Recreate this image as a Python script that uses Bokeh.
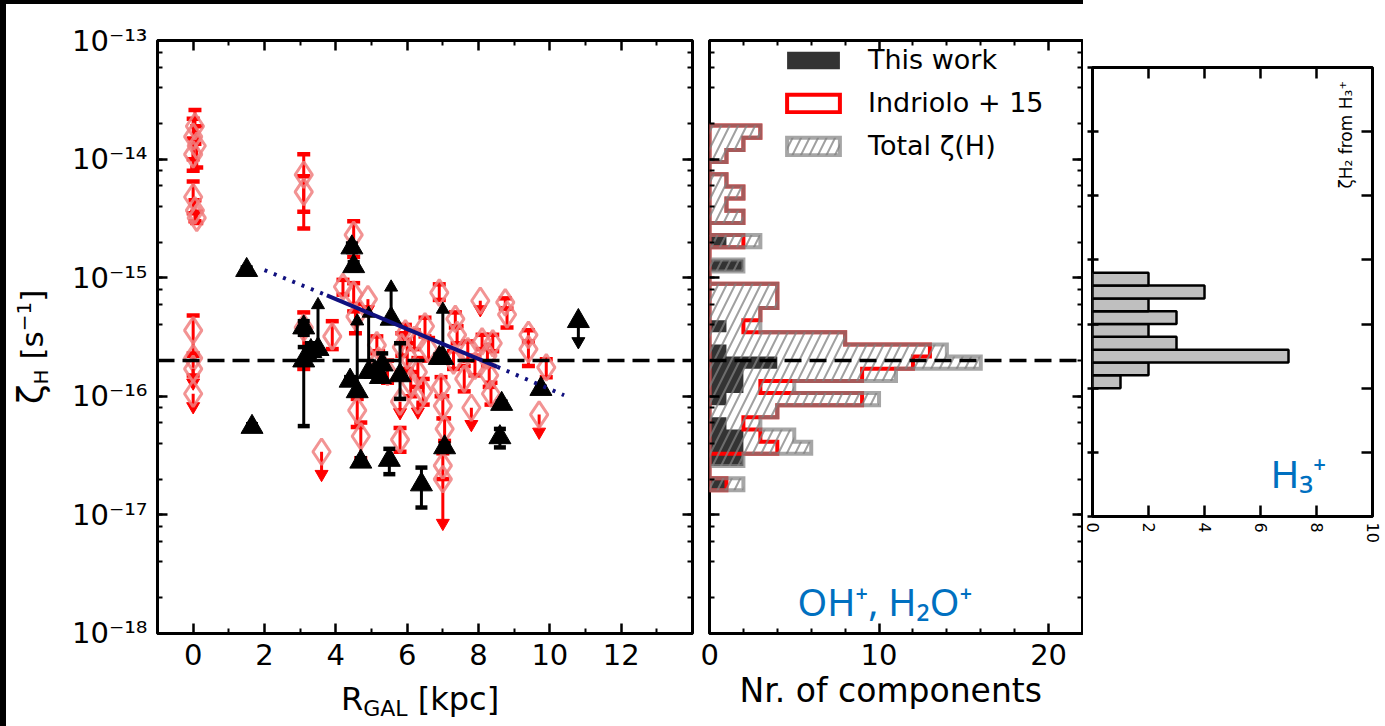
import math
from bokeh.plotting import figure
from bokeh.models import (Span, Label, LogAxis, LinearAxis, FixedTicker, LogTicker,
                          CustomJSTickFormatter, Legend, LegendItem, Div, Range1d)
from bokeh.layouts import row, column
from bokeh.embed import file_html
from bokeh.resources import INLINE

FONT = "DejaVu Sans"

# ---------------- data ----------------
# Indriolo+15 detections: R_GAL [kpc], zeta_H, lower / upper error ends
ind_r = [0.05, 0.0, 0.1, 0.0, 0.0, 0.05, 0.1, 0.0, 0.0,
         3.1, 3.1, 3.1, 3.9, 4.5, 4.2, 4.5, 4.55, 4.6, 4.7,
         5.15, 5.2, 5.45, 5.8, 5.85, 6.0, 6.2, 6.3, 6.45, 6.5, 6.6,
         6.9, 6.95, 7.0, 7.05, 7.0, 7.35, 7.4, 7.3, 7.6, 7.7, 7.9,
         8.1, 8.25, 8.3, 8.35, 8.4, 8.75, 8.8, 9.4, 9.4, 9.9, 6.1, 5.95]
ind_z = [1.9e-14, 1.55e-14, 1.3e-14, 1.1e-14, 4.8e-15, 3.7e-15, 3.2e-15, 3.6e-16, 2.1e-16,
         7.4e-15, 5.3e-15, 3.8e-16, 3.2e-16, 2.3e-15, 8.4e-16, 7.2e-16, 4.7e-16, 7.6e-17, 4.6e-17,
         2.7e-16, 2.0e-16, 1.6e-16, 4.3e-17, 2.6e-16, 2.2e-16, 3.0e-16, 1.6e-16, 1.1e-16, 3.9e-16, 2.5e-16,
         7.5e-16, 1.2e-16, 8.3e-17, 5.3e-17, 2.6e-17, 4.5e-16, 3.3e-16, 2.0e-16, 1.4e-16, 2.4e-16, 1.8e-16,
         2.9e-16, 2.2e-16, 1.5e-16, 1.05e-16, 2.8e-16, 6.2e-16, 4.9e-16, 3.3e-16, 2.5e-16, 1.75e-16, 1.3e-16, 3.4e-16]
ind_lo = [1.35e-14, 1.0e-14, 8.5e-15, 8.0e-15, 3.5e-15, 3.0e-15, 2.9e-15, 2.2e-16, 1.5e-16,
          3.6e-15, 2.6e-15, 1.7e-16, 2.5e-16, 1.5e-15, 7.2e-16, 5.2e-16, 3.4e-16, 5.5e-17, 3.0e-17,
          2.3e-16, 1.65e-16, 1.3e-16, 3.4e-17, 2.2e-16, 1.7e-16, 2.5e-16, 1.2e-16, 8.5e-17, 3.2e-16, 2.0e-16,
          6.5e-16, 1.0e-16, 6.5e-17, 4.2e-17, 2.0e-17, 3.8e-16, 2.8e-16, 1.7e-16, 1.1e-16, 2.0e-16, 1.5e-16,
          2.5e-16, 1.8e-16, 1.2e-16, 8.5e-17, 2.4e-16, 5.5e-16, 3.8e-16, 2.9e-16, 1.8e-16, 1.45e-16, 1.0e-16, 3.0e-16]
ind_hi = [2.6e-14, 2.2e-14, 1.9e-14, 1.5e-14, 6.5e-15, 4.5e-15, 3.6e-15, 4.8e-16, 2.3e-16,
          1.1e-14, 7.2e-15, 5.1e-16, 4.3e-16, 3.0e-15, 9.6e-16, 9.0e-16, 6.0e-16, 9.5e-17, 6.0e-17,
          3.2e-16, 2.4e-16, 2.0e-16, 5.4e-17, 3.4e-16, 2.8e-16, 3.6e-16, 2.1e-16, 1.4e-16, 4.6e-16, 3.1e-16,
          8.8e-16, 1.45e-16, 1.0e-16, 6.5e-17, 3.3e-17, 5.1e-16, 3.9e-16, 2.4e-16, 1.8e-16, 2.9e-16, 2.2e-16,
          3.3e-16, 2.7e-16, 1.8e-16, 1.3e-16, 3.3e-16, 6.7e-16, 5.5e-16, 3.6e-16, 2.9e-16, 2.05e-16, 1.6e-16, 4.0e-16]
# Indriolo+15 upper limits
ind_ul_r = [0.0, 0.0, 3.6, 4.9, 5.8, 6.3, 7.0, 7.8, 8.05, 9.7]
ind_ul_z = [1.7e-16, 1.05e-16, 3.4e-17, 6.6e-16, 9.0e-17, 9.2e-17, 2.0e-17, 8.0e-17, 6.4e-16, 7.0e-17]
ind_ul_tip = [1.3e-16, 8.2e-17, 2.2e-17, 5.4e-16, 7.3e-17, 7.4e-17, 8.5e-18, 5.8e-17, 5.4e-16, 5.0e-17]

# This work: detections
tw_r = [1.5, 1.65, 3.1, 3.1, 3.3, 4.45, 4.5, 4.4, 4.7, 5.1,
        5.25, 5.3, 5.5, 5.8, 6.4, 6.9, 7.05, 8.65, 8.6, 9.75]
tw_z = [1.16e-15, 5.5e-17, 3.8e-16, 2.0e-16, 2.4e-16, 1.8e-15, 1.25e-15, 1.35e-16, 2.8e-17, 1.6e-16,
        1.45e-16, 1.85e-16, 2.9e-17, 1.5e-16, 1.8e-17, 2.1e-16, 3.7e-17, 8.6e-17, 4.5e-17, 1.15e-16]
tw_lo = [1.1e-15, 5.2e-17, 3.3e-16, 5.6e-17, 2.1e-16, 1.65e-15, 1.15e-15, 1.25e-16, 2.6e-17, 1.5e-16,
         1.35e-16, 1.7e-16, 2.2e-17, 9.5e-17, 1.15e-17, 1.95e-16, 3.4e-17, 8.2e-17, 3.7e-17, 1.1e-16]
tw_hi = [1.22e-15, 5.8e-17, 4.3e-16, 2.6e-16, 2.8e-16, 1.95e-15, 1.35e-15, 1.45e-16, 3.0e-17, 1.7e-16,
         1.55e-16, 2.3e-16, 3.6e-17, 2.8e-16, 2.5e-17, 2.25e-16, 4.0e-17, 9.0e-17, 5.3e-17, 1.2e-16]
# This work: lower limits (arrows up) and upper limit (arrow down)
tw_ll_r = [3.5, 4.6, 4.92, 5.55, 7.0]
tw_ll_z = [2.5e-16, 1.1e-16, 1.6e-16, 4.5e-16, 2.1e-16]
tw_ll_tip = [5.9e-16, 4.3e-16, 5.0e-16, 8.3e-16, 5.4e-16]
tw_ul_r = [10.8]
tw_ul_z = [4.3e-16]
tw_ul_tip = [2.9e-16]

# Gradient fit (solid inside 3.75-8.53 kpc, dotted extrapolation)
fit_r = [2.0, 3.75, 8.53, 10.4]
fit_z = [1.16e-15, 7.1e-16, 1.77e-16, 1.02e-16]

zeta_ref = 2e-16

# Histogram of components (log10 zeta bin edges, bottom -> top)
hist_edges_log = [-16.794, -16.691, -16.589, -16.486, -16.384, -16.281, -16.178, -16.076,
                  -15.973, -15.871, -15.768, -15.665, -15.563, -15.460, -15.358, -15.255,
                  -15.152, -15.050, -14.947, -14.845, -14.742, -14.639, -14.537, -14.434,
                  -14.332, -14.229, -14.126, -14.024, -13.921, -13.819, -13.716]
hist_tw = [1, 0, 2, 2, 2, 1, 0, 1, 2, 2, 4, 1, 0, 1, 0, 0, 0, 0, 2, 0, 1, 0, 0, 0, 0, 0, 0, 0, 0, 0]
hist_ind = [1, 0, 0, 4, 3, 2, 4, 9, 3, 9, 12, 13, 8, 2, 3, 4, 4, 0, 0, 0, 2, 0, 2, 1, 2, 1, 0, 1, 2, 3]
hist_total = [2, 0, 2, 6, 5, 3, 4, 10, 5, 11, 16, 14, 8, 3, 3, 4, 4, 0, 2, 0, 3, 0, 2, 1, 2, 1, 0, 1, 2, 3]

# zeta_H2 from H3+ histogram
h3_edges_log = [-16.0, -15.8, -15.6, -15.4, -15.2, -15.0, -14.8, -14.6, -14.4, -14.2]
h3_counts = [1, 2, 7, 3, 2, 3, 2, 4, 2]

left_x_ticks = [0, 2, 4, 6, 8, 10, 12]
left_x_minor = [-1, 1, 3, 5, 7, 9, 11, 13]
mid_x_ticks = [0, 10, 20]
mid_x_minor = [2, 4, 6, 8, 12, 14, 16, 18]
h3_x_ticks = [0, 2, 4, 6, 8, 10]

# ---------------- helpers ----------------
SUP = CustomJSTickFormatter(code="""
const s = {"-":"\u207b","0":"\u2070","1":"\u00b9","2":"\u00b2","3":"\u00b3","4":"\u2074","5":"\u2075","6":"\u2076","7":"\u2077","8":"\u2078","9":"\u2079"};
const e = Math.round(Math.log10(tick));
return "10" + String(e).split("").map(c => s[c]).join("");
""")


def style_axis(ax, labels, major_in=10, minor_in=5, major_out=0, size="29px", standoff=10):
    ax.axis_line_color = None
    ax.major_tick_in = major_in
    ax.major_tick_out = major_out
    ax.minor_tick_in = minor_in
    ax.minor_tick_out = 0
    ax.major_tick_line_width = 2.5
    ax.minor_tick_line_width = 2
    ax.major_tick_line_color = "black"
    ax.minor_tick_line_color = "black"
    ax.axis_label = None
    if labels:
        ax.major_label_text_font = FONT
        ax.major_label_text_font_size = size
        ax.major_label_text_color = "black"
        ax.major_label_standoff = standoff
    else:
        ax.major_label_text_font_size = "0px"
        ax.major_label_standoff = 0
        ax.major_label_text_alpha = 0


def base_fig(**kw):
    p = figure(output_backend="svg", toolbar_location=None, title=None,
               background_fill_color="white", border_fill_color="white", **kw)
    p.xgrid.visible = False
    p.ygrid.visible = False
    p.outline_line_color = "black"
    p.outline_line_width = 3
    return p


def step_path(edges_log, counts):
    xs = [0.0]
    ys = [10 ** edges_log[0]]
    for i, c in enumerate(counts):
        xs += [c, c]
        ys += [10 ** edges_log[i], 10 ** edges_log[i + 1]]
    xs.append(0.0)
    ys.append(10 ** edges_log[-1])
    return xs, ys


YR = (0.995e-18, 1.005e-13)

# frame geometry in page pixels (used only to place texts inside frames)
def p1y(py): return 10 ** (-13 - (py - 40) * 5 / 593)
def p2x(px): return (px - 709) * 22 / 373
def p3x(px): return (px - 1092) * 10 / 280
def p3y(py): return 10 ** (-11 - (py - 67) * 7 / 449)

# ---------------- panel 1: zeta vs R_GAL ----------------
p1 = base_fig(width=644, height=680, x_range=Range1d(-1, 14), y_range=Range1d(*YR),
              y_axis_type="log", min_border_left=101, min_border_right=8,
              min_border_top=36, min_border_bottom=51)
p1.xaxis.ticker = FixedTicker(ticks=left_x_ticks, minor_ticks=left_x_minor)
style_axis(p1.xaxis[0], True)
p1.yaxis.ticker = LogTicker()
p1.yaxis.formatter = SUP
style_axis(p1.yaxis[0], True)
ax = LinearAxis(ticker=FixedTicker(ticks=left_x_ticks, minor_ticks=left_x_minor))
style_axis(ax, False)
p1.add_layout(ax, "above")
ay = LogAxis(ticker=LogTicker())
style_axis(ay, False)
p1.add_layout(ay, "right")

RED = "#ff0000"
PALE = "#f08080"
# Indriolo detections
p1.segment(x0=ind_r, y0=ind_lo, x1=ind_r, y1=ind_hi, line_color=RED, line_width=3)
p1.scatter(ind_r + ind_r, ind_lo + ind_hi, marker="dash", size=13, line_color=RED, line_width=4.5)
p1.scatter(ind_r, ind_z, marker="diamond", size=26, fill_color=None, line_color=PALE,
           line_width=3, line_alpha=0.85)
# Indriolo upper limits
p1.segment(x0=ind_ul_r, y0=ind_ul_z, x1=ind_ul_r, y1=ind_ul_tip, line_color=RED, line_width=3)
p1.scatter(ind_ul_r, ind_ul_tip, marker="inverted_triangle", size=13, fill_color=RED, line_color=RED)
p1.scatter(ind_ul_r, ind_ul_z, marker="diamond", size=26, fill_color=None, line_color=PALE,
           line_width=3, line_alpha=0.85)

# This work detections
p1.segment(x0=tw_r, y0=tw_lo, x1=tw_r, y1=tw_hi, line_color="black", line_width=3)
p1.scatter(tw_r + tw_r, tw_lo + tw_hi, marker="dash", size=12, line_color="black", line_width=4.5)
p1.scatter(tw_r, tw_z, marker="triangle", size=22, fill_color="black", line_color="black")
# This work limits
p1.segment(x0=tw_ll_r, y0=tw_ll_z, x1=tw_ll_r, y1=tw_ll_tip, line_color="black", line_width=3)
p1.scatter(tw_ll_r, tw_ll_tip, marker="triangle", size=13, fill_color="black", line_color="black")
p1.scatter(tw_ll_r, tw_ll_z, marker="triangle", size=22, fill_color="black", line_color="black")
p1.segment(x0=tw_ul_r, y0=tw_ul_z, x1=tw_ul_r, y1=tw_ul_tip, line_color="black", line_width=3)
p1.scatter(tw_ul_r, tw_ul_tip, marker="inverted_triangle", size=13, fill_color="black", line_color="black")
p1.scatter(tw_ul_r, tw_ul_z, marker="triangle", size=22, fill_color="black", line_color="black")

# fit
NAVY = "#10107f"
p1.line(fit_r[0:2], fit_z[0:2], line_color=NAVY, line_width=4, line_dash="3 7")
p1.line(fit_r[2:4], fit_z[2:4], line_color=NAVY, line_width=4, line_dash="3 7")
p1.line(fit_r[1:3], fit_z[1:3], line_color=NAVY, line_width=4)

p1.add_layout(Span(location=zeta_ref, dimension="width", line_color="black",
                   line_width=3.5, line_dash="17 8"))

# ---------------- panel 2: histogram of components ----------------
p2 = base_fig(width=383, height=722, x_range=Range1d(0, 22), y_range=Range1d(*YR),
              y_axis_type="log", min_border_left=9, min_border_right=1,
              min_border_top=36, min_border_bottom=93)
p2.xaxis.ticker = FixedTicker(ticks=mid_x_ticks, minor_ticks=mid_x_minor)
style_axis(p2.xaxis[0], True)
p2.xaxis.axis_label = "Nr.  of components"
p2.xaxis.axis_label_text_font = FONT
p2.xaxis.axis_label_text_font_size = "33px"
p2.xaxis.axis_label_text_font_style = "normal"
p2.xaxis.axis_label_text_color = "black"
p2.xaxis.axis_label_standoff = 3
p2.yaxis.ticker = LogTicker()
style_axis(p2.yaxis[0], False)
ax2 = LinearAxis(ticker=FixedTicker(ticks=mid_x_ticks, minor_ticks=mid_x_minor))
style_axis(ax2, False)
p2.add_layout(ax2, "above")
ay2 = LogAxis(ticker=LogTicker())
style_axis(ay2, False)
p2.add_layout(ay2, "right")

xs, ys = step_path(hist_edges_log, hist_tw)
r_tw = p2.patch(xs, ys, fill_color="#333333", line_color=None)
xs, ys = step_path(hist_edges_log, hist_ind)
r_ind = p2.patch(xs, ys, fill_color=None, line_color=RED, line_width=4, line_join="miter")
xs, ys = step_path(hist_edges_log, hist_total)
r_tot = p2.patch(xs, ys, fill_color=None, line_color="#808080", line_alpha=0.7, line_width=4,
                 line_join="miter", hatch_pattern="/", hatch_color="#808080", hatch_alpha=0.75,
                 hatch_weight=2, hatch_scale=17)

p2.add_layout(Span(location=zeta_ref, dimension="width", line_color="black",
                   line_width=3.5, line_dash="17 8"))

legend = Legend(items=[LegendItem(label="This work", renderers=[r_tw]),
                       LegendItem(label="Indriolo + 15", renderers=[r_ind]),
                       LegendItem(label="Total ζ(H)", renderers=[r_tot])],
                location=(71, 472), glyph_width=66, glyph_height=22, label_height=30,
                label_text_font=FONT, label_text_font_size="27px", label_text_color="black",
                label_standoff=22, spacing=12, padding=0, margin=0, border_line_color=None,
                background_fill_alpha=0)
p2.add_layout(legend)

p2.add_layout(Label(x=p2x(797), y=p1y(601), text="OH⁺, H₂O⁺", text_align="left",
                    text_baseline="alphabetic", text_font="Noto Sans", text_font_size="38px",
                    text_color="#0070C0"))

# ---------------- panel 3: zeta_H2 from H3+ ----------------
p3 = base_fig(width=302, height=695, x_range=Range1d(0, 10), y_range=Range1d(1e-18 * 0.995, 1.005e-11),
              y_axis_type="log", min_border_left=9, min_border_right=13,
              min_border_top=36, min_border_bottom=210)
p3.xaxis.ticker = FixedTicker(ticks=h3_x_ticks)
style_axis(p3.xaxis[0], True, major_in=11, size="16px", standoff=6)
p3.xaxis.major_label_orientation = -math.pi / 2
p3.yaxis.ticker = LogTicker()
style_axis(p3.yaxis[0], False, major_in=6, major_out=5)
p3.yaxis.minor_tick_line_color = None
ax3 = LinearAxis(ticker=FixedTicker(ticks=h3_x_ticks))
style_axis(ax3, False, major_in=11)
p3.add_layout(ax3, "above")
ay3 = LogAxis(ticker=LogTicker())
style_axis(ay3, False, major_in=11)
ay3.minor_tick_line_color = None
p3.add_layout(ay3, "right")

p3.quad(left=[0] * len(h3_counts), right=h3_counts,
        bottom=[10 ** e for e in h3_edges_log[:-1]], top=[10 ** e for e in h3_edges_log[1:]],
        fill_color="#bfbfbf", line_color="black", line_width=2.5)

p3.add_layout(Label(x=p3x(1270), y=p3y(472), text="H₃⁺", text_align="left",
                    text_baseline="alphabetic", text_font="Noto Sans", text_font_size="39px",
                    text_color="#0070C0"))
p3.add_layout(Label(x=p3x(1345), y=p3y(188), text="ζH₂ from H₃⁺", angle=math.pi / 2,
                    text_align="left", text_baseline="middle", text_font=FONT,
                    text_font_size="17px", text_color="black"))

# ---------------- axis titles with sub/superscripts (HTML text) ----------------
ylab_html = (
    '<div style="position:absolute; left:9px; top:400px; transform:rotate(-90deg); '
    'transform-origin:0 0; white-space:nowrap; font-family:\'DejaVu Sans\'; font-size:31px; '
    'line-height:32px; color:black;">'
    '<span style="font-size:36px;">ζ</span>'
    '<span style="font-size:20px; position:relative; top:5px;">H</span>'
    '&nbsp;[s<span style="font-size:20px; position:relative; top:-12px;">−1</span>]</div>'
)
ylabel_div = Div(text=ylab_html, width=50, height=722, margin=0,
                 styles={"position": "relative", "overflow": "visible"})

xlab_html = (
    '<div style="position:absolute; left:285px; top:-1px; white-space:nowrap; '
    'font-family:\'DejaVu Sans\'; font-size:32px; line-height:32px; color:black;">'
    'R<span style="font-size:22px; position:relative; top:6px;">GAL</span>&nbsp;[kpc]</div>'
)
xlabel_div = Div(text=xlab_html, width=644, height=42, margin=0,
                 styles={"position": "relative", "overflow": "visible"})

# ---------------- page layout ----------------
top_bar = Div(width=1083, height=4, margin=0, styles={"background-color": "black"})
left_bar = Div(width=6, height=722, margin=0, styles={"background-color": "black"})
spacer3 = Div(width=302, height=27, margin=0)
col1 = column(p1, xlabel_div, spacing=0)
col3 = column(spacer3, p3, spacing=0)
layout = column(top_bar, row(left_bar, ylabel_div, col1, p2, col3, spacing=0), spacing=0)

open("out.html", "w").write(file_html(layout, INLINE))
